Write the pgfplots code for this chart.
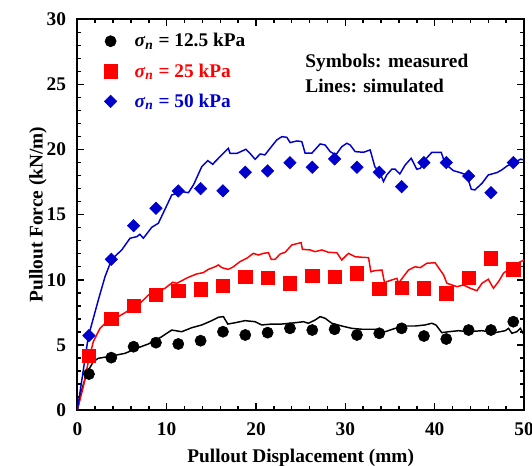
\documentclass[border=0pt]{standalone}
\usepackage{fontspec}
\setmainfont{Liberation Serif}
\usepackage{pgfplots}
\usepackage{pgfplotstable}
\pgfplotsset{compat=1.18}
\usetikzlibrary{calc}
\definecolor{myblue}{RGB}{0,0,204}
\definecolor{myred}{RGB}{255,0,0}
\newcommand{\bigfont}{\bfseries\fontsize{14.5}{17}\selectfont}

\pgfplotstableread{
x y
1.3 2.76
3.8 4.02
6.3 4.86
8.8 5.17
11.3 5.07
13.8 5.32
16.3 6.01
18.8 5.76
21.3 5.94
23.8 6.27
26.3 6.14
28.8 6.20
31.3 5.76
33.8 5.89
36.3 6.27
38.8 5.68
41.3 5.45
43.8 6.14
46.3 6.14
48.8 6.78
}\measA

\pgfplotstableread{
x y
1.3 4.17
3.8 6.99
6.3 7.99
8.8 8.87
11.3 9.16
13.8 9.27
16.3 9.53
18.8 10.24
21.3 10.16
23.8 9.73
26.3 10.32
28.8 10.24
31.3 10.50
33.8 9.29
36.3 9.40
38.8 9.34
41.3 8.96
43.8 10.16
46.3 11.65
48.8 10.80
}\measB

\pgfplotstableread{
x y
1.3 5.71
3.8 11.57
6.3 14.15
8.8 15.49
11.3 16.82
13.8 17.00
16.3 16.83
18.8 18.26
21.3 18.36
23.8 18.99
26.3 18.64
28.8 19.28
31.3 18.64
33.8 18.26
36.3 17.15
38.8 19.00
41.3 19.00
43.8 17.97
46.3 16.69
48.8 19.00
}\measC

\pgfplotstableread{
x y
0.0 0.0
0.49 1.54
1.05 2.82
1.79 3.71
2.35 3.97
3.47 4.10
5.34 4.35
6.65 4.74
7.95 5.07
9.45 5.63
10.57 6.14
11.69 6.01
12.81 6.32
13.93 6.53
15.05 6.86
15.79 7.12
16.35 7.17
16.84 6.60
17.66 6.70
18.78 6.86
19.90 6.78
20.65 6.53
21.77 6.60
22.89 6.60
24.38 6.70
25.31 6.78
25.87 6.66
26.62 6.91
27.18 7.17
27.74 7.04
28.49 6.66
29.60 6.45
30.73 6.27
31.85 6.20
33.34 6.20
34.46 6.01
35.58 6.27
36.70 6.45
37.82 6.45
38.93 6.53
39.69 6.66
40.14 6.53
40.80 5.94
41.55 6.01
42.67 6.09
43.79 6.01
45.28 6.09
46.77 5.94
47.90 6.09
48.27 6.27
48.64 5.89
49.20 6.01
49.60 6.27
50.00 5.76
}\simA

\pgfplotstableread{
x y
0.0 0.0
0.67 1.79
1.23 3.71
1.79 5.25
2.54 6.27
3.47 6.91
4.59 7.17
5.34 7.47
6.09 7.81
7.02 8.19
7.95 8.83
8.70 8.95
9.82 9.35
10.68 9.81
11.13 9.73
12.43 10.19
13.37 10.45
14.10 10.55
14.67 10.80
15.42 11.00
15.79 11.14
16.17 10.93
16.90 10.80
17.47 11.00
18.20 11.39
18.97 11.65
19.70 12.03
20.27 11.90
20.83 12.03
21.40 12.08
21.70 11.57
22.14 11.57
22.70 11.98
23.26 12.11
24.00 12.67
24.75 12.80
25.05 12.85
25.20 12.34
26.06 12.29
26.60 12.16
27.37 12.29
28.10 12.11
29.05 12.08
29.60 11.52
30.35 12.03
31.10 11.77
31.85 11.73
32.60 11.70
32.85 10.62
33.30 10.70
34.10 10.75
34.40 9.73
34.65 9.86
35.77 10.11
35.95 9.73
36.50 10.24
37.07 10.75
37.80 11.00
38.38 10.93
39.13 11.27
40.05 11.31
40.36 11.00
41.00 10.37
41.37 9.73
41.93 9.60
42.50 9.47
43.22 9.60
43.97 9.35
44.73 9.16
45.30 9.73
46.00 10.04
46.58 9.35
47.15 9.86
47.70 10.50
48.65 11.00
49.60 11.39
50.00 11.50
}\simB

\pgfplotstableread{
x y
0.0 0.0
1.23 5.63
2.35 8.45
3.10 10.24
3.85 11.57
4.97 12.29
5.90 13.19
6.65 13.31
7.00 13.49
7.39 13.19
8.33 14.03
9.07 14.34
10.57 16.51
11.69 16.77
12.43 16.69
13.00 17.28
13.93 18.69
14.60 19.15
15.16 18.87
15.42 19.07
16.17 19.59
16.90 20.10
17.10 19.70
17.85 19.70
18.86 20.02
19.34 19.70
19.90 19.25
20.46 19.66
21.00 19.59
21.58 20.10
22.33 20.74
22.90 20.99
23.45 20.94
23.82 20.53
24.57 20.66
25.13 20.61
25.50 19.72
26.25 19.72
27.18 20.43
27.74 20.35
28.30 19.84
28.94 19.59
29.60 20.22
30.17 20.48
30.54 20.35
31.10 19.84
32.03 19.79
32.78 19.97
33.30 18.69
33.90 18.18
34.27 17.54
34.64 18.05
35.20 18.49
35.58 18.49
36.10 18.13
36.70 18.82
37.37 19.33
38.00 18.49
38.40 18.56
38.90 19.20
39.69 19.79
40.73 19.79
41.00 19.26
41.55 18.69
42.10 18.38
42.85 18.23
43.60 18.05
44.10 16.95
44.50 16.90
45.30 17.41
46.00 18.05
46.97 18.23
47.50 18.43
48.10 18.74
48.80 18.95
49.60 19.26
50.00 19.20
}\simC

\begin{document}
\begin{tikzpicture}
\begin{axis}[
  scale only axis, width=335pt, height=293pt,
  xmin=0, xmax=50, ymin=0, ymax=30,
  xtick={0,10,...,50}, ytick={0,5,...,30},
  minor x tick num=4, minor y tick num=4,
  tick align=inside, xtick pos=both, ytick pos=both,
  major tick length=5pt, minor tick length=3pt,
  axis line style={line width=1.4pt},
  every tick/.style={line width=1.1pt, black},
  /pgf/number format/assume math mode=true,
  ticklabel style={font=\bigfont},
  xticklabel style={yshift=-6pt},
  yticklabel style={xshift=-5pt},
  label style={font=\bigfont},
  xlabel={Pullout Displacement (mm)},
  ylabel={Pullout Force (kN/m)},
  xlabel style={yshift=-3pt},
  ylabel style={yshift=-7pt},
  legend style={draw=none, fill=none, at={(axis description cs:0.05,0.978)}, anchor=north west,
    font=\bigfont, row sep=7pt, column sep=11pt},
  legend cell align=left,
]
\addplot[black, line width=1.1pt, forget plot] table {\simA};
\addplot[myred, line width=1.1pt, forget plot] table {\simB};
\addplot[myblue, line width=1.1pt, forget plot] table {\simC};

\addplot[only marks, mark=*, mark size=4.2pt, black] table {\measA};
\addlegendentry{\textcolor{black}{\textit{σ}\textsubscript{\textit{n}} = 12.5 kPa}}
\addplot[only marks, mark=square*, mark size=5pt, myred, mark options={fill=myred, draw=myred}] table {\measB};
\addlegendentry{\textcolor{myred}{\textit{σ}\textsubscript{\textit{n}} = 25 kPa}}
\addplot[only marks, mark=square*, mark size=3.3pt, myblue, mark options={rotate=45, fill=myblue, draw=myblue}] table {\measC};
\addlegendentry{\textcolor{myblue}{\textit{σ}\textsubscript{\textit{n}} = 50 kPa}}

\node[anchor=base west, font=\bigfont, inner sep=0pt] at (axis cs:25.5,26.27) {Symbols: measured};
\node[anchor=base west, font=\bigfont, inner sep=0pt] at (axis cs:25.5,24.37) {Lines: simulated};
\end{axis}
\pgfresetboundingbox
\path[use as bounding box] ($(current axis.south west)+(-58pt,-42pt)$) rectangle ($(current axis.north east)+(6pt,14.5pt)$);
\end{tikzpicture}
\end{document}
